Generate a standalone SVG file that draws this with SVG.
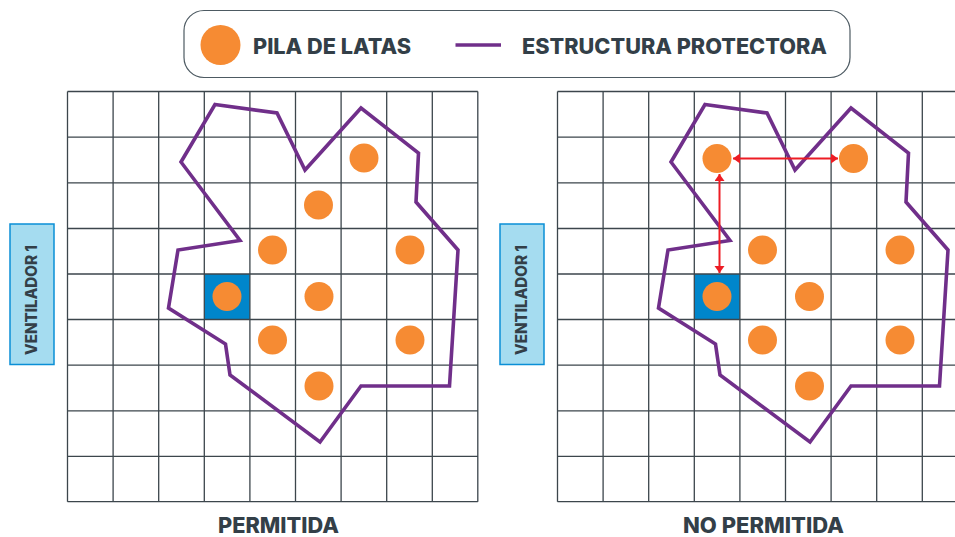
<svg xmlns="http://www.w3.org/2000/svg" width="955" height="537" viewBox="0 0 955 537">
<defs>
<style>
.t{font-family:Inter,"Liberation Sans",sans-serif;font-weight:800;fill:#333f48}
.g{stroke:#3c464c;stroke-width:1.3;fill:none}
.c{fill:#f68b33}
.p{fill:none;stroke:#702f8a;stroke-width:3.6;stroke-linejoin:miter}
.a{stroke:#ed1c24;stroke-width:2;fill:none;marker-start:url(#h);marker-end:url(#h)}
.v{fill:#a5dcf0;stroke:#0a8fd6;stroke-width:1.5}
</style>
<marker id="h" markerUnits="userSpaceOnUse" markerWidth="10" markerHeight="11" refX="7" refY="5" orient="auto-start-reverse"><path d="M0 0L7 5L0 10Z" fill="#ed1c24"/></marker>
<g id="grid"><path class="g" d="M67.5 91.5H477.8M67.5 137.2H477.8M67.5 182.8H477.8M67.5 228.5H477.8M67.5 274H477.8M67.5 319.5H477.8M67.5 365.2H477.8M67.5 410.8H477.8M67.5 456.4H477.8M67.5 501.7H477.8M67.5 91.5V501.7M113.1 91.5V501.7M158.7 91.5V501.7M204.3 91.5V501.7M249.9 91.5V501.7M295.5 91.5V501.7M341.1 91.5V501.7M386.7 91.5V501.7M432.3 91.5V501.7M477.8 91.5V501.7"/></g>
<path id="wall" d="M215 104.500L277 113L305 170L361 108L418.500 153L416 202L458 250L449.500 386L361 386L320 442L230 375L225.500 344L168.500 308L178 250L240 240.500L181 162Z"/>
</defs>
<g id="legend">
<rect x="184" y="10.500" width="666" height="67" rx="20" ry="20" fill="#fff" stroke="#4d5a62" stroke-width="1.2"/>
<circle class="c" cx="220.500" cy="45" r="20"/>
<text class="t" x="253" y="53.500" font-size="21" textLength="158" lengthAdjust="spacingAndGlyphs">PILA DE LATAS</text>
<path d="M455.500 45H501" stroke="#702f8a" stroke-width="3.600"/>
<text class="t" x="522" y="53.500" font-size="21" textLength="305" lengthAdjust="spacingAndGlyphs">ESTRUCTURA PROTECTORA</text>
</g>
<g id="panel-permitida">
<rect x="204.300" y="274" width="45.600" height="45.500" fill="#0086cb"/>
<use href="#grid"/>
<use href="#wall" class="p"/>
<circle class="c" cx="364" cy="158" r="14.500"/>
<circle class="c" cx="318.500" cy="205" r="14.500"/>
<circle class="c" cx="272.500" cy="250" r="14.500"/>
<circle class="c" cx="410" cy="250" r="14.500"/>
<circle class="c" cx="227" cy="296.500" r="14.500"/>
<circle class="c" cx="319" cy="296.500" r="14.500"/>
<circle class="c" cx="272.500" cy="340" r="14.500"/>
<circle class="c" cx="410" cy="340" r="14.500"/>
<circle class="c" cx="319" cy="386" r="14.500"/>
<rect class="v" x="10" y="224" width="44" height="140.500"/>
<text class="t" transform="translate(37 355) rotate(-90)" font-size="15.500" textLength="110" lengthAdjust="spacingAndGlyphs">VENTILADOR 1</text>
<text class="t" x="218" y="533" font-size="21" textLength="121" lengthAdjust="spacingAndGlyphs">PERMITIDA</text>
</g>
<g id="panel-no-permitida">
<g transform="translate(490 0)">
<rect x="204.300" y="274" width="45.600" height="45.500" fill="#0086cb"/>
<path class="g" d="M67.500 91.500H477.800M67.500 137.200H477.800M67.500 182.800H477.800M67.500 228.500H477.800M67.500 274H477.800M67.500 319.500H477.800M67.500 365.200H477.800M67.500 410.800H477.800M67.500 456.400H477.800M67.500 501.700H477.800M67.500 91.500V501.700M113.100 91.500V501.700M158.700 91.500V501.700M204.300 91.500V501.700M249.900 91.500V501.700M295.500 91.500V501.700M341.100 91.500V501.700M386.700 91.500V501.700M432.300 91.500V501.700M477.800 91.500V501.700"/>
<use href="#wall" class="p"/>
</g>
<circle class="c" cx="717" cy="158.500" r="14.500"/>
<circle class="c" cx="853.500" cy="158.500" r="14.500"/>
<circle class="c" cx="762.500" cy="250" r="14.500"/>
<circle class="c" cx="900" cy="250" r="14.500"/>
<circle class="c" cx="717" cy="296.500" r="14.500"/>
<circle class="c" cx="809.500" cy="296.500" r="14.500"/>
<circle class="c" cx="762.500" cy="340" r="14.500"/>
<circle class="c" cx="900" cy="340" r="14.500"/>
<circle class="c" cx="809.500" cy="386" r="14.500"/>
<rect class="v" x="500" y="224" width="44" height="140.500"/>
<text class="t" transform="translate(527 355) rotate(-90)" font-size="15.500" textLength="110" lengthAdjust="spacingAndGlyphs">VENTILADOR 1</text>
<text class="t" x="683" y="533" font-size="21" textLength="161" lengthAdjust="spacingAndGlyphs">NO PERMITIDA</text>
</g>
<g id="connectors">
<path class="a" d="M733 158.500H838"/>
<path class="a" d="M719.500 174V273"/>
</g>
</svg>
